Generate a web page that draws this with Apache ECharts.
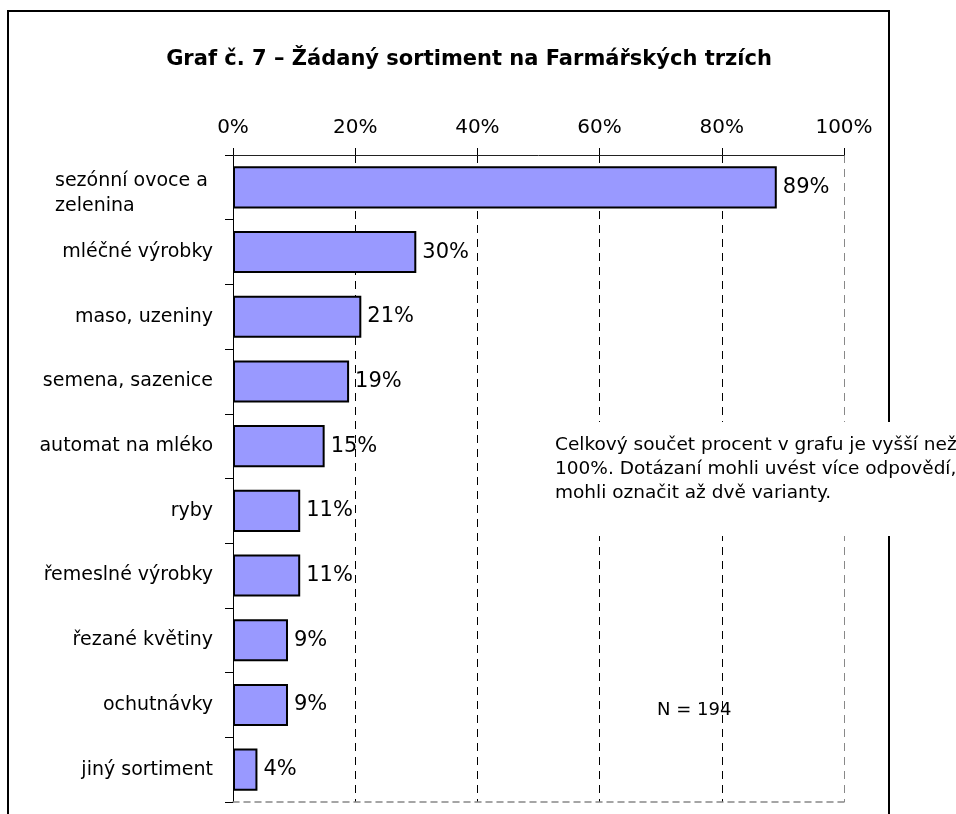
<!DOCTYPE html>
<html>
<head>
<meta charset="utf-8">
<script src="https://cdn.jsdelivr.net/npm/echarts@6/dist/echarts.min.js"></script>
<style>
  html, body { margin: 0; padding: 0; background: #fff; }
  #chart { width: 956px; height: 814px; }
</style>
</head>
<body>
<div id="chart"></div>
<script>
// data
var categories = ['sezónní ovoce a zelenina', 'mléčné výrobky', 'maso, uzeniny', 'semena, sazenice',
  'automat na mléko', 'ryby', 'řemeslné výrobky', 'řezané květiny', 'ochutnávky', 'jiný sortiment'];
var values = [89, 30, 21, 19, 15, 11, 11, 9, 9, 4];
var tickValues = [0, 20, 40, 60, 80, 100];

var FONT = 'DejaVu Sans';
var chart = echarts.init(document.getElementById('chart'));

var option = {
  backgroundColor: '#fff',
  animation: false,
  textStyle: { fontFamily: FONT, color: '#000' },
  title: {
    text: 'Graf č. 7 – Žádaný sortiment na Farmářských trzích',
    left: 464,
    top: 44,
    textAlign: 'center',
    textStyle: { fontFamily: FONT, fontSize: 21, fontWeight: 'bold', color: '#000' }
  },
  grid: { left: 233, right: 112, top: 155, bottom: 12, containLabel: false },
  xAxis: [
    {
      type: 'value',
      position: 'top',
      min: tickValues[0],
      max: tickValues[tickValues.length - 1],
      interval: 20,
      axisLine: { show: true, lineStyle: { color: '#222', width: 1 } },
      axisTick: { show: true, length: 7, lineStyle: { color: '#000' } },
      axisLabel: { formatter: '{value}%', fontSize: 20, color: '#000', margin: 17, fontFamily: FONT },
      splitLine: { show: true, lineStyle: { type: [8, 6], color: ['#000', '#000', '#000', '#000', '#000', '#888'], width: 1 } }
    },
    {
      type: 'value',
      position: 'bottom',
      min: 0, max: 100,
      axisLine: { show: true, lineStyle: { type: [6, 5], color: '#888', width: 1.5 } },
      axisTick: { show: false },
      axisLabel: { show: false },
      splitLine: { show: false }
    }
  ],
  yAxis: {
    type: 'category',
    inverse: true,
    data: categories,
    axisLine: { show: true, lineStyle: { color: '#000', width: 1 } },
    axisTick: { show: true, length: 8, lineStyle: { color: '#000' } },
    axisLabel: {
      fontSize: 19,
      color: '#000',
      margin: 20,
      fontFamily: FONT,
      formatter: function (v) {
        if (v === 'sezónní ovoce a zelenina') {
          return '{e| }\n{l|sezónní ovoce a}\n{l|zelenina}';
        }
        return v;
      },
      rich: {
        e: { width: 158, fontSize: 10, lineHeight: 12 },
        l: { width: 158, align: 'left', fontSize: 19, fontFamily: FONT, color: '#000', lineHeight: 25 }
      }
    }
  },
  series: [
    {
      type: 'bar',
      data: values,
      barWidth: '65%',
      itemStyle: { color: '#9999FF', borderColor: '#000', borderWidth: 2 },
      label: {
        show: true,
        position: 'right',
        distance: 6,
        formatter: '{c}%',
        fontSize: 21,
        color: '#000',
        fontFamily: FONT
      }
    }
  ],
  graphic: [
    {
      type: 'rect',
      shape: { x: 8, y: 11, width: 881, height: 830 },
      style: { fill: 'none', stroke: '#000', lineWidth: 2 },
      z: 100
    },
    {
      type: 'rect',
      shape: { x: 548, y: 422, width: 410, height: 114 },
      style: { fill: '#fff', stroke: 'none' },
      z: 101
    },
    {
      type: 'text',
      left: 555,
      top: 433,
      z: 102,
      style: {
        text: 'Celkový součet procent v grafu je vyšší než\n100%. Dotázaní mohli uvést více odpovědí,\nmohli označit až dvě varianty.',
        font: '18.5px "' + FONT + '"',
        fill: '#000',
        lineHeight: 24
      }
    },
    {
      type: 'text',
      left: 657,
      top: 701,
      z: 102,
      style: { text: 'N = 194', font: '18px "' + FONT + '"', fill: '#000' }
    }
  ]
};

chart.setOption(option);
</script>
</body>
</html>
